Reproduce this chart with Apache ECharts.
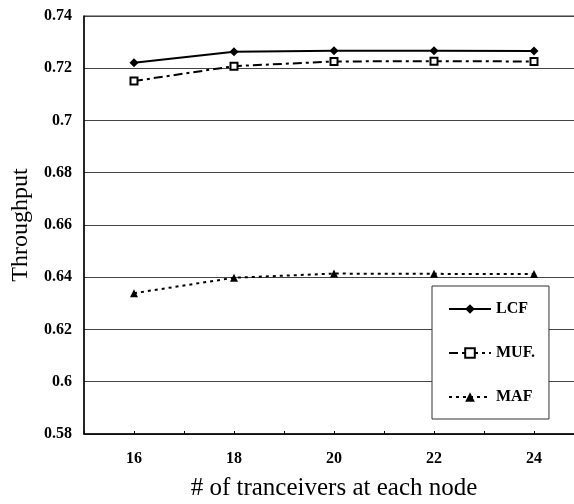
<!DOCTYPE html>
<html><head><meta charset="utf-8">
<script src="https://cdn.jsdelivr.net/npm/echarts@6/dist/echarts.min.js"></script>
<style>html,body{margin:0;padding:0;background:#fff}#c{width:574px;height:504px}</style>
</head><body><div id="c"></div>
<script>
var xValues = [16, 18, 20, 22, 24];
var lcf = [0.7221, 0.7263, 0.7267, 0.7267, 0.7266];
var muf = [0.7151, 0.7208, 0.7226, 0.7227, 0.7226];
var maf = [0.6339, 0.6398, 0.6414, 0.6413, 0.6412];
var seriesNames = ['LCF', 'MUF.', 'MAF'];
var yTicks = [0.58, 0.6, 0.62, 0.64, 0.66, 0.68, 0.7, 0.72, 0.74];

function pairs(v){ return xValues.map(function(x,i){ return [x, v[i]]; }); }
var font = 'Liberation Serif';
var chart = echarts.init(document.getElementById('c'));
chart.setOption({
  animation: false,
  backgroundColor: '#fff',
  grid: { left: 84, top: 16, width: 500, height: 418, show: true, borderColor: '#333', borderWidth: 1,
    backgroundColor: 'transparent', containLabel: false, outerBoundsMode: 'none' },
  xAxis: {
    type: 'value', min: 15, max: 25, interval: 1,
    name: '# of tranceivers at each node', nameLocation: 'middle', nameGap: 42,
    nameTextStyle: { fontFamily: font, fontSize: 25, color: '#000' },
    axisLine: { lineStyle: { color: '#000', width: 1.5 } },
    axisTick: { inside: true, length: 3, lineStyle: { color: '#000' } },
    axisLabel: { fontFamily: font, fontWeight: 'bold', fontSize: 16, color: '#000', margin: 17,
      formatter: function(v){ return xValues.indexOf(v) >= 0 ? String(v) : ''; } },
    splitLine: { show: false }
  },
  yAxis: {
    type: 'value', min: 0.58, max: 0.74, interval: 0.02,
    name: 'Throughput', nameLocation: 'middle', nameGap: 47,
    nameTextStyle: { fontFamily: font, fontSize: 24, color: '#000' },
    axisLine: { show: true, lineStyle: { color: '#000', width: 1.5 } },
    axisTick: { show: false },
    axisLabel: { fontFamily: font, fontWeight: 'bold', fontSize: 16, color: '#000', margin: 12,
      formatter: function(v){ var r = Math.round(v*100)/100; return yTicks.indexOf(r) >= 0 ? String(r) : ''; } },
    splitLine: { lineStyle: { color: '#444', width: 1 } }
  },
  legend: {
    orient: 'vertical', left: 432, top: 286,
    padding: [15, 14, 14, 16], itemGap: 28, itemWidth: 42, itemHeight: 12,
    backgroundColor: '#fff', borderColor: '#333', borderWidth: 1,
    textStyle: { fontFamily: font, fontWeight: 'bold', fontSize: 16, color: '#000' },
    data: seriesNames
  },
  series: [
    { name: seriesNames[0], type: 'line', data: pairs(lcf), symbol: 'diamond', symbolSize: 9,
      itemStyle: { color: '#000' }, lineStyle: { color: '#000', width: 2 } },
    { name: seriesNames[1], type: 'line', data: pairs(muf), symbol: 'rect', symbolSize: 7,
      itemStyle: { color: '#fff', borderColor: '#000', borderWidth: 2 }, lineStyle: { color: '#000', width: 2, type: [9, 4, 3, 4] } },
    { name: seriesNames[2], type: 'line', data: pairs(maf), symbol: 'triangle', symbolSize: 8,
      itemStyle: { color: '#000' }, lineStyle: { color: '#000', width: 2, type: [3, 4] } }
  ]
});
</script></body></html>
